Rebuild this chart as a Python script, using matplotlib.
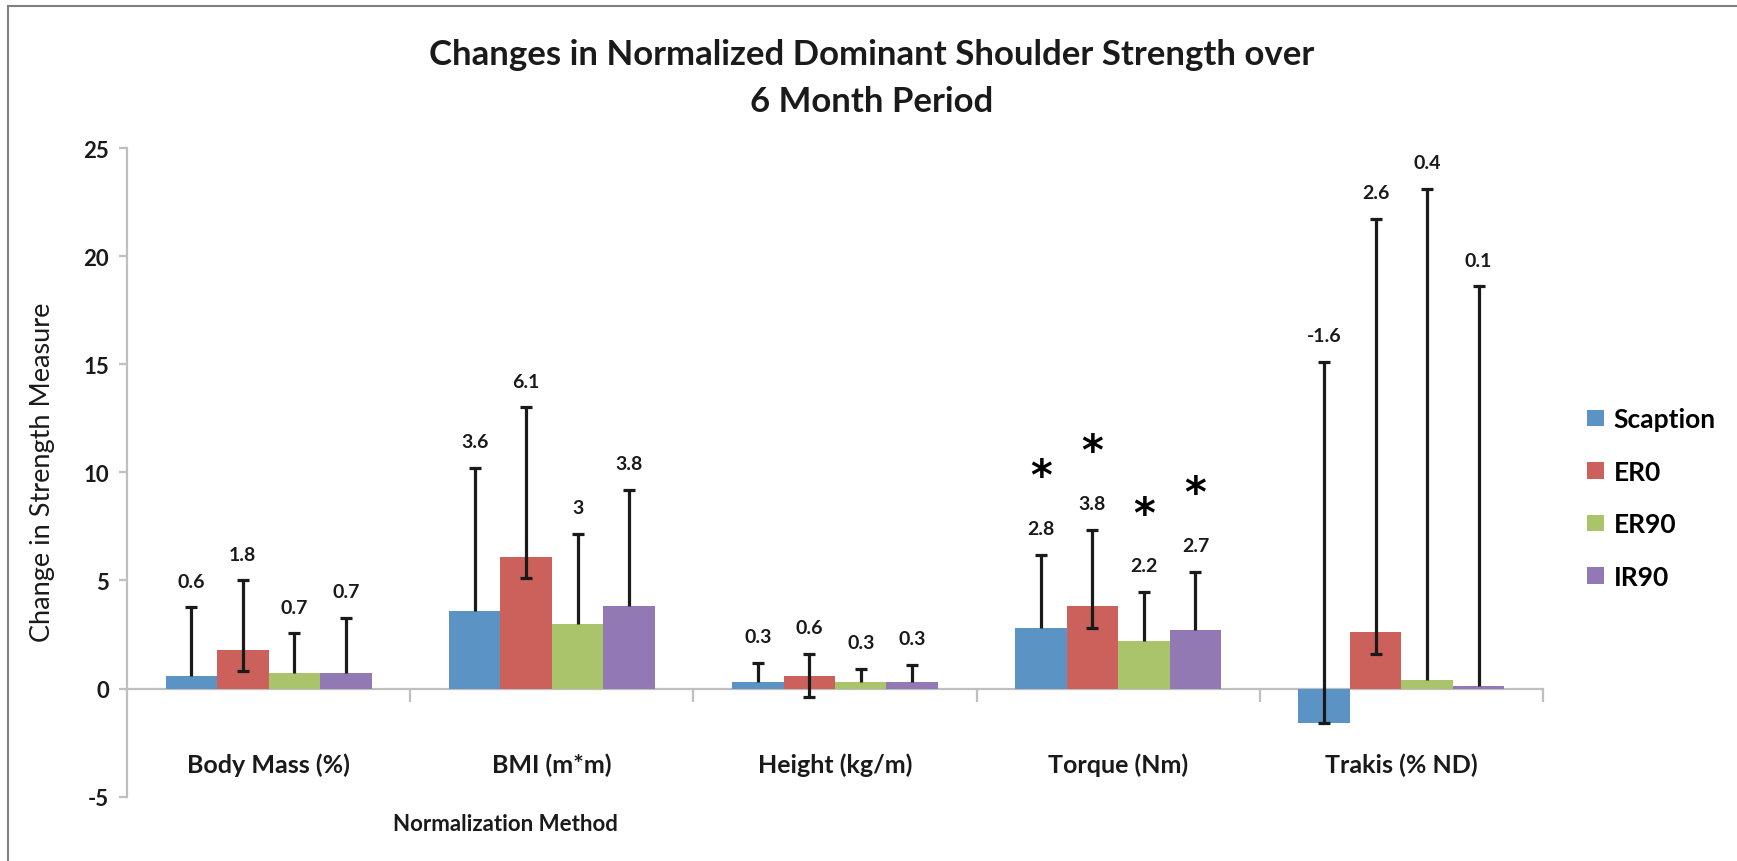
import numpy as np
import matplotlib
matplotlib.use('Agg')
import matplotlib.pyplot as plt
from matplotlib.patches import Rectangle

plt.rcParams['font.family'] = ['Lato', 'DejaVu Sans']

### ------------------- Data -------------------
categories = ['Body Mass (%)', 'BMI (m*m)', 'Height (kg/m)', 'Torque (Nm)', 'Trakis (% ND)']
series_names = ['Scaption', 'ER0', 'ER90', 'IR90']

scaption = [0.6, 3.6, 0.3, 2.8, -1.6]
er0 = [1.8, 6.1, 0.6, 3.8, 2.6]
er90 = [0.7, 3.0, 0.3, 2.2, 0.4]
ir90 = [0.7, 3.8, 0.3, 2.7, 0.1]

# error bars (upper / lower length)
scaption_up = [3.15, 6.6, 0.9, 3.4, 16.7]
er0_up = [3.2, 6.9, 1.0, 3.55, 19.1]
er90_up = [1.85, 4.15, 0.6, 2.25, 22.7]
ir90_up = [2.55, 5.4, 0.8, 2.7, 18.5]

scaption_down = [0, 0, 0, 0, 0]
er0_down = [1.0, 1.0, 1.0, 1.0, 1.0]
er90_down = [0, 0, 0, 0, 0]
ir90_down = [0, 0, 0, 0, 0]

significant = [False, False, False, True, False]  # asterisks

yticks = [-5, 0, 5, 10, 15, 20, 25]

colors = ['#5b93c5', '#cc615b', '#a9c46b', '#9279b3']
axis_grey = '#bfbfbf'
ink = '#1a1a1a'

### ------------------- Plot -------------------
W, H = 1737, 862
fig = plt.figure(figsize=(W / 100, H / 100), dpi=100)
ax = fig.add_axes([127 / W, 1 - 797.7 / H, (1543 - 127) / W, (797.7 - 149) / H])

x = np.arange(len(categories))
width = 1. / 5.5

allvals = [scaption, er0, er90, ir90]
allup = [scaption_up, er0_up, er90_up, ir90_up]
alldown = [scaption_down, er0_down, er90_down, ir90_down]

for i, (name, vals, up, dn, col) in enumerate(zip(series_names, allvals, allup, alldown, colors)):
    pos = x + (i - 1.5) * width
    ax.bar(pos, vals, width, color=col, label=name, linewidth=0, zorder=2)
    eb = ax.errorbar(pos, vals, yerr=[dn, up], fmt='none', ecolor=ink,
                     elinewidth=2.3, capsize=4.5, capthick=2.3, zorder=3)
    # only keep lower caps where there is a lower bar (or the bar is negative)
    eb[1][0].set_markevery([d > 0 or v < 0 for d, v in zip(dn, vals)])
    for p, v, u, s in zip(pos, vals, up, significant):
        ax.annotate('{:g}'.format(v), (p, v + u), xytext=(0, 19), textcoords='offset points',
                    ha='center', va='center', fontsize=14, fontweight='bold', color=ink)
        if s:
            ax.annotate('*', (p, v + u), xytext=(0, 56), textcoords='offset points',
                        ha='center', va='center', fontsize=30, fontweight='bold',
                        color='black', family='DejaVu Sans')

ax.set_xlim(-0.5, 4.5)
ax.set_ylim(-5, 25)

for side in ['top', 'right']:
    ax.spines[side].set_visible(False)
ax.spines['bottom'].set_position(('data', 0))
for side in ['left', 'bottom']:
    ax.spines[side].set_color(axis_grey)
    ax.spines[side].set_linewidth(1.6)
    ax.spines[side].set_zorder(1)

ax.set_yticks(yticks, [str(t) for t in yticks], fontsize=16, fontweight='bold', color=ink)
ax.tick_params(axis='y', direction='out', length=6, width=1.6, color=axis_grey, pad=7)

ax.set_xticks(x, categories, fontsize=18, fontweight='bold', color=ink)
ax.set_xticks(np.arange(0.5, 5), minor=True)
ax.tick_params(axis='x', which='major', length=0, pad=46)
ax.tick_params(axis='x', which='minor', direction='out', length=9, width=1.6, color=axis_grey)

### Labels
fig.text(872 / W, 1 - 55 / H, 'Changes in Normalized Dominant Shoulder Strength over',
         ha='center', va='center', fontsize=25, fontweight='bold', color=ink)
fig.text(872 / W, 1 - 101.7 / H, '6 Month Period',
         ha='center', va='center', fontsize=25, fontweight='bold', color=ink)
fig.text(43 / W, 1 - 472 / H, 'Change in Strength Measure', rotation=90,
         ha='center', va='center', fontsize=19.5, color=ink)
fig.text(505 / W, 1 - 825 / H, 'Normalization Method',
         ha='center', va='center', fontsize=16, fontweight='bold', color=ink)

fig.legend(loc='center left', bbox_to_anchor=(1587 / W, 1 - 499 / H), frameon=False,
           prop={'weight': 'bold', 'size': 19}, handlelength=0.65, handleheight=0.6,
           handletextpad=0.35, labelspacing=1.08, borderpad=0, borderaxespad=0)

# chart border
fig.add_artist(Rectangle((8 / W, -0.05), 1.2, 1 - 7 / H + 0.05, transform=fig.transFigure,
                         fill=False, edgecolor='#808080', linewidth=1.5))

fig.savefig('out.png', dpi=100)
